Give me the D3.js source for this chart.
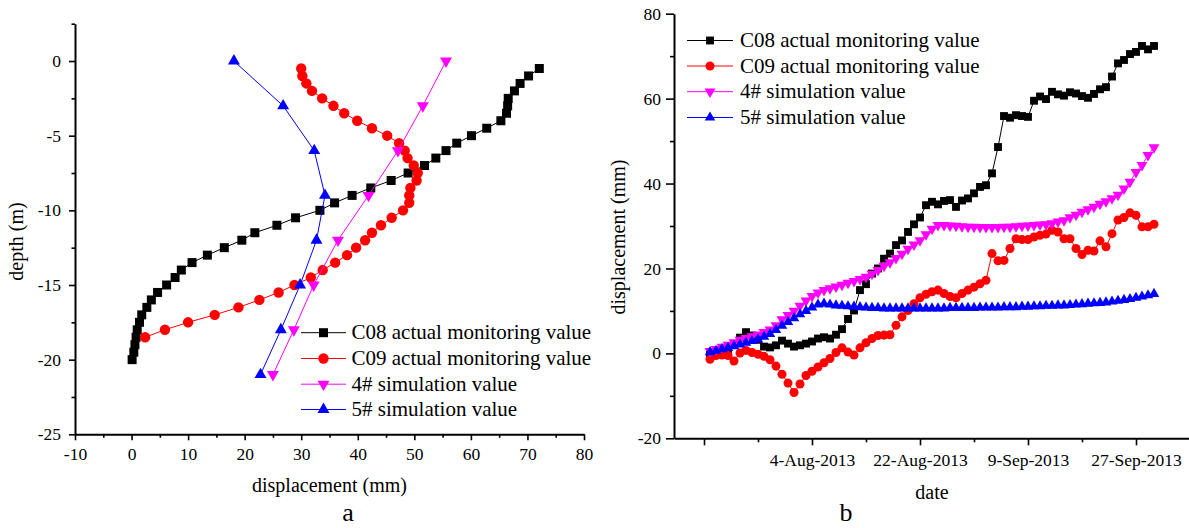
<!DOCTYPE html>
<html>
<head>
<meta charset="utf-8">
<script src="https://d3js.org/d3.v7.min.js"></script>
<style>
  body { margin: 0; background: #fff; }
  svg text { font-family: "Liberation Serif", "Times New Roman", serif; fill: #000; }
</style>
</head>
<body>
<div id="chart"></div>
<script>
// ---- shared series info ----
var seriesNames = ["C08 actual monitoring value", "C09 actual monitoring value", "4# simulation value", "5# simulation value"];
var seriesColors = ["#000000", "#ff0000", "#ff00ff", "#0000ff"];

// ---- panel a: displacement vs depth ----
var depthC08 = [-0.5, -1, -1.5, -2, -2.5, -3, -3.5, -4, -4.5, -5, -5.5, -6, -6.5, -7, -7.5, -8, -8.5, -9, -9.5, -10,
  -10.5, -11, -11.5, -12, -12.5, -13, -13.5, -14, -14.5, -15, -15.5, -16, -16.5, -17, -17.5, -18, -18.5, -19, -19.5, -20];
var dispC08 = [72.1, 70.2, 68.7, 67.7, 66.6, 66.5, 66.3, 65.3, 62.8, 60.1, 57.5, 55.6, 53.8, 51.8, 48.9, 45.9, 42.3, 39.0, 35.9, 33.3,
  29.0, 25.7, 21.8, 19.5, 16.4, 13.4, 10.7, 8.8, 7.7, 6.2, 4.6, 3.5, 2.7, 1.8, 1.4, 1.0, 0.8, 0.6, 0.4, 0.1];

var depthC09 = [-0.5, -1, -1.5, -2, -2.5, -3, -3.5, -4, -4.5, -5, -5.5, -6, -6.5, -7, -7.5, -8, -8.5, -9, -9.5, -10,
  -10.5, -11, -11.5, -12, -12.5, -13, -13.5, -14, -14.5, -15, -15.5, -16, -16.5, -17, -17.5, -18, -18.5];
var dispC09 = [30.0, 30.2, 30.9, 31.9, 33.7, 35.7, 37.6, 39.9, 42.5, 45.2, 47.3, 48.3, 48.8, 49.9, 50.6, 50.4, 49.3, 49.1, 49.1, 48.0,
  46.0, 44.1, 42.5, 41.3, 39.7, 38.1, 36.0, 33.8, 31.7, 28.8, 26.0, 22.6, 18.9, 14.7, 10.0, 5.9, 2.4];

var depthSim = [0, -3, -6, -9, -12, -15, -18, -21];
var disp4 = [55.6, 51.5, 47.1, 41.9, 36.5, 32.2, 28.7, 25.0];
var disp5 = [18.1, 26.8, 32.3, 34.2, 32.7, 29.8, 26.4, 22.8];

var xMajorA = [-10, 0, 10, 20, 30, 40, 50, 60, 70, 80];
var xMinorA = [-5, 5, 15, 25, 35, 45, 55, 65, 75];
var yMajorA = [-25, -20, -15, -10, -5, 0];
var yMinorA = [-22.5, -17.5, -12.5, -7.5, -2.5, 2.5];

// ---- panel b: displacement vs date ----
var dates = [
  "2013-07-18", "2013-07-19", "2013-07-20", "2013-07-21", "2013-07-22", "2013-07-23", "2013-07-24", "2013-07-25", "2013-07-26", "2013-07-27",
  "2013-07-28", "2013-07-29", "2013-07-30", "2013-07-31", "2013-08-01", "2013-08-02", "2013-08-03", "2013-08-04", "2013-08-05", "2013-08-06",
  "2013-08-07", "2013-08-08", "2013-08-09", "2013-08-10", "2013-08-11", "2013-08-12", "2013-08-13", "2013-08-14", "2013-08-15", "2013-08-16",
  "2013-08-17", "2013-08-18", "2013-08-19", "2013-08-20", "2013-08-21", "2013-08-22", "2013-08-23", "2013-08-24", "2013-08-25", "2013-08-26",
  "2013-08-27", "2013-08-28", "2013-08-29", "2013-08-30", "2013-08-31", "2013-09-01", "2013-09-02", "2013-09-03", "2013-09-04", "2013-09-05",
  "2013-09-06", "2013-09-07", "2013-09-08", "2013-09-09", "2013-09-10", "2013-09-11", "2013-09-12", "2013-09-13", "2013-09-14", "2013-09-15",
  "2013-09-16", "2013-09-17", "2013-09-18", "2013-09-19", "2013-09-20", "2013-09-21", "2013-09-22", "2013-09-23", "2013-09-24", "2013-09-25",
  "2013-09-26", "2013-09-27", "2013-09-28", "2013-09-29", "2013-09-30"];

var valC08 = [0.0, 0.3, 0.6, 1.0, 2.0, 3.7, 5.0, 4.2, 3.2, 1.6,
  1.4, 1.9, 3.0, 2.3, 1.6, 1.9, 2.3, 2.8, 3.5, 3.8,
  3.5, 4.4, 5.7, 8.1, 10.1, 14.9, 16.3, 18.8, 20.0, 22.3,
  23.5, 25.5, 26.6, 28.6, 30.4, 32.0, 34.9, 35.7, 35.1, 35.9,
  36.1, 34.5, 36.0, 36.5, 37.7, 39.2, 39.6, 42.4, 48.6, 55.9,
  55.5, 56.1, 55.9, 55.7, 59.5, 60.5, 59.9, 61.6, 61.0, 60.7,
  61.5, 61.2, 60.6, 60.2, 61.1, 62.2, 62.7, 65.2, 68.3, 69.1,
  70.5, 71.0, 72.4, 71.6, 72.4];

var valC09 = [-1.4, -0.5, -0.4, -0.5, -1.8, 0.1, 0.7, 0.2, -0.2, -0.7,
  -1.5, -3.0, -4.9, -7.0, -9.2, -7.2, -5.2, -4.2, -3.2, -2.2,
  -1.2, 0.2, 1.3, 0.3, -0.4, 1.3, 2.5, 3.5, 4.2, 4.3,
  4.4, 6.6, 8.6, 10.1, 11.7, 13.1, 13.9, 14.5, 14.9, 14.1,
  13.4, 13.1, 14.1, 14.9, 15.6, 16.4, 17.2, 23.5, 21.8, 21.9,
  24.7, 27.0, 26.8, 26.8, 27.4, 27.8, 28.1, 29.0, 28.6, 27.0,
  27.0, 24.7, 23.3, 24.3, 24.1, 26.5, 25.1, 28.2, 31.4, 32.0,
  33.1, 32.5, 29.8, 29.8, 30.4];

var val4 = [0.5, 1.0, 1.5, 2.0, 2.6, 3.2, 3.6, 4.0, 4.4, 5.0,
  5.6, 6.6, 8.0, 9.0, 10.0, 11.2, 12.4, 13.5, 14.3, 14.9,
  15.3, 15.7, 16.1, 16.6, 17.0, 17.5, 18.0, 18.7, 19.6, 20.6,
  21.4, 22.4, 23.4, 24.6, 25.6, 26.6, 28.0, 29.3, 30.2, 30.2,
  30.1, 30.0, 29.9, 29.8, 29.8, 29.7, 29.7, 29.7, 29.7, 29.8,
  29.8, 29.9, 30.0, 30.1, 30.2, 30.3, 30.4, 30.6, 31.0, 31.3,
  32.0, 32.6, 33.3, 33.9, 34.5, 35.2, 35.8, 36.5, 37.3, 38.8,
  40.4, 42.7, 44.3, 46.7, 48.5];

var val5 = [0.3, 0.6, 1.0, 1.3, 1.7, 2.1, 2.5, 2.9, 3.3, 3.9,
  4.6, 5.5, 6.5, 7.4, 8.3, 9.2, 10.0, 10.8, 11.5, 11.7,
  11.5, 11.3, 11.2, 11.1, 11.0, 10.9, 10.8, 10.7, 10.7, 10.6,
  10.6, 10.6, 10.6, 10.6, 10.6, 10.6, 10.6, 10.6, 10.6, 10.6,
  10.7, 10.7, 10.7, 10.7, 10.7, 10.8, 10.8, 10.8, 10.8, 10.9,
  10.9, 10.9, 11.0, 11.0, 11.1, 11.1, 11.2, 11.2, 11.3, 11.3,
  11.4, 11.5, 11.6, 11.7, 11.8, 11.9, 12.0, 12.2, 12.4, 12.6,
  12.8, 13.1, 13.4, 13.7, 14.0];

var xMajorB = ["2013-07-17", "2013-08-04", "2013-08-22", "2013-09-09", "2013-09-27"];
var xMajorLabelsB = ["", "4-Aug-2013", "22-Aug-2013", "9-Sep-2013", "27-Sep-2013"];
var xMinorB = ["2013-07-26", "2013-08-13", "2013-08-31", "2013-09-18"];
var yMajorB = [-20, 0, 20, 40, 60, 80];
var yMinorB = [-10, 10, 30, 50, 70];

var parseDate = d3.timeParse("%Y-%m-%d");

// svg wrapper
var svg = d3.select("#chart")
  .append("svg")
  .attr("width", 1189)
  .attr("height", 528);

// marker for series i at (x, y)
function marker(g, i, x, y, size) {
  var shapes = [d3.symbolSquare, d3.symbolCircle, d3.symbolTriangle, d3.symbolTriangle];
  g.append("path")
    .attr("d", d3.symbol(shapes[i], size)())
    .attr("transform", "translate(" + x + "," + y + ")" + (i == 2 ? " rotate(180)" : ""))
    .attr("fill", seriesColors[i]);
}

function styleAxis(ax) {
  ax.select(".domain").attr("stroke", "#000").attr("stroke-width", 2);
  ax.selectAll(".tick line").attr("stroke", "#000").attr("stroke-width", 1.6);
  ax.selectAll(".tick text").style("font-size", "17.5px").attr("fill", "#000");
}

function drawSeries(g, pts, i, size) {
  var line = d3.line().x(d => d[0]).y(d => d[1]);
  g.append("path")
    .attr("d", line(pts))
    .attr("fill", "none")
    .attr("stroke", seriesColors[i])
    .attr("stroke-width", 1);
  pts.forEach(p => marker(g, i, p[0], p[1], size));
}

function drawLegend(g, lx1, lx2, mx, tx, rows, sizes) {
  rows.forEach(function(ry, i) {
    g.append("line")
      .attr("x1", lx1).attr("x2", lx2).attr("y1", ry).attr("y2", ry)
      .attr("stroke", seriesColors[i]).attr("stroke-width", 1);
    marker(g, i, mx, ry, sizes[i]);
    g.append("text")
      .attr("x", tx).attr("y", ry + 6.5)
      .style("font-size", "21px")
      .text(seriesNames[i]);
  });
}

// ================= panel a =================
var xA = d3.scaleLinear().domain([-10, 80]).range([75, 584]);
var yA = d3.scaleLinear().domain([-25, 2.5]).range([434.3, 23.7]);
var gA = svg.append("g");

var minorXA = gA.append("g").attr("transform", "translate(0,434.3)")
  .call(d3.axisBottom(xA).tickValues(xMinorA).tickSize(3.5).tickSizeOuter(0).tickFormat(""));
minorXA.select(".domain").remove();
styleAxis(minorXA);
var axXA = gA.append("g").attr("transform", "translate(0,434.3)")
  .call(d3.axisBottom(xA).tickValues(xMajorA).tickSize(6).tickSizeOuter(0).tickPadding(7).tickFormat(d => String(d)));
styleAxis(axXA);

var minorYA = gA.append("g").attr("transform", "translate(75,0)")
  .call(d3.axisLeft(yA).tickValues(yMinorA).tickSize(3.5).tickSizeOuter(0).tickFormat(""));
minorYA.select(".domain").remove();
styleAxis(minorYA);
var axYA = gA.append("g").attr("transform", "translate(75,0)")
  .call(d3.axisLeft(yA).tickValues(yMajorA).tickSize(6).tickSizeOuter(0).tickPadding(8).tickFormat(d => String(d)));
styleAxis(axYA);

drawSeries(gA, dispC08.map((v, k) => [xA(v), yA(depthC08[k])]), 0, 81);
drawSeries(gA, dispC09.map((v, k) => [xA(v), yA(depthC09[k])]), 1, 85);
drawSeries(gA, disp4.map((v, k) => [xA(v), yA(depthSim[k])]), 2, 62);
drawSeries(gA, disp5.map((v, k) => [xA(v), yA(depthSim[k])]), 3, 62);

drawLegend(gA, 301, 346, 323.5, 351.5, [332.7, 358.5, 384.2, 409.5], [81, 85, 62, 62]);

gA.append("text")
  .attr("x", 329.5).attr("y", 492)
  .attr("text-anchor", "middle")
  .style("font-size", "20px")
  .text("displacement (mm)");
gA.append("text")
  .attr("transform", "translate(23,241.5) rotate(-90)")
  .attr("text-anchor", "middle")
  .style("font-size", "20px")
  .text("depth (m)");
gA.append("text")
  .attr("x", 348).attr("y", 521)
  .attr("text-anchor", "middle")
  .style("font-size", "26px")
  .text("a");

// ================= panel b =================
var xB = d3.scaleTime().domain([parseDate("2013-07-12"), parseDate("2013-10-06")]).range([674, 1190]);
var yB = d3.scaleLinear().domain([-20, 80]).range([438.3, 13.7]);
var gB = svg.append("g");

var minorXB = gB.append("g").attr("transform", "translate(0,438.3)")
  .call(d3.axisBottom(xB).tickValues(xMinorB.map(parseDate)).tickSize(4).tickSizeOuter(0).tickFormat(""));
minorXB.select(".domain").remove();
styleAxis(minorXB);
var axXB = gB.append("g").attr("transform", "translate(0,438.3)")
  .call(d3.axisBottom(xB).tickValues(xMajorB.map(parseDate)).tickSize(7).tickSizeOuter(0).tickPadding(8.5)
    .tickFormat((d, k) => xMajorLabelsB[k]));
styleAxis(axXB);

var minorYB = gB.append("g").attr("transform", "translate(674,0)")
  .call(d3.axisLeft(yB).tickValues(yMinorB).tickSize(4).tickSizeOuter(0).tickFormat(""));
minorYB.select(".domain").remove();
styleAxis(minorYB);
var axYB = gB.append("g").attr("transform", "translate(674,0)")
  .call(d3.axisLeft(yB).tickValues(yMajorB).tickSize(8).tickSizeOuter(0).tickPadding(5).tickFormat(d => String(d)));
styleAxis(axYB);

var dayX = dates.map(s => xB(parseDate(s)));
drawSeries(gB, valC08.map((v, k) => [dayX[k], yB(v)]), 0, 62);
drawSeries(gB, valC09.map((v, k) => [dayX[k], yB(v)]), 1, 64);
drawSeries(gB, val4.map((v, k) => [dayX[k], yB(v)]), 2, 52);
drawSeries(gB, val5.map((v, k) => [dayX[k], yB(v)]), 3, 48);

drawLegend(gB, 687, 733, 710, 740, [40.5, 66, 91.7, 117.5], [62, 64, 52, 48]);

gB.append("text")
  .attr("x", 932).attr("y", 499)
  .attr("text-anchor", "middle")
  .style("font-size", "20px")
  .text("date");
gB.append("text")
  .attr("transform", "translate(625,237) rotate(-90)")
  .attr("text-anchor", "middle")
  .style("font-size", "20px")
  .text("displacement (mm)");
gB.append("text")
  .attr("x", 846).attr("y", 521)
  .attr("text-anchor", "middle")
  .style("font-size", "26px")
  .text("b");
</script>
</body>
</html>
